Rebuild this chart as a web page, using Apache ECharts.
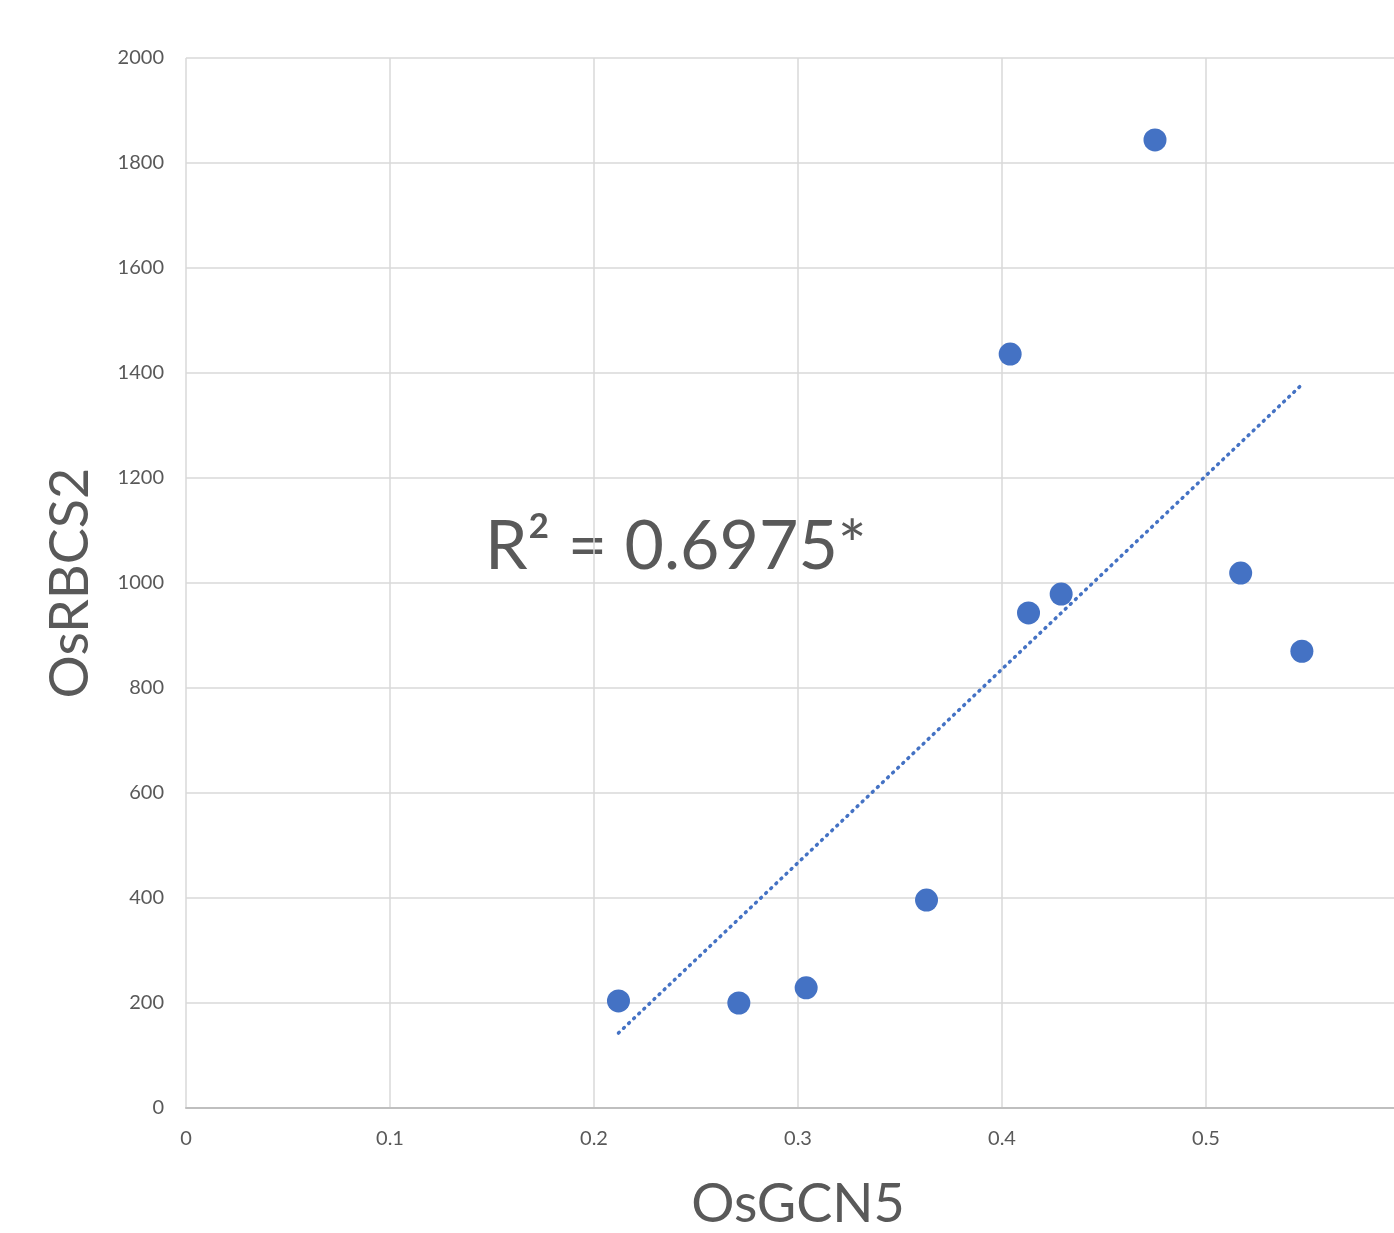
<!DOCTYPE html>
<html>
<head>
<meta charset="utf-8">
<script src="https://cdn.jsdelivr.net/npm/echarts@6/dist/echarts.min.js"></script>
<style>
  html, body { margin: 0; padding: 0; background: #fff; }
  #chart { width: 1394px; height: 1233px; }
</style>
</head>
<body>
<div id="chart"></div>
<script>
// values
const gcn5 = [0.212, 0.271, 0.304, 0.363, 0.404, 0.413, 0.429, 0.475, 0.517, 0.547];
const rbcs2 = [204, 200, 229, 396, 1436, 943, 979, 1844, 1019, 870];
const rSquaredText = 'R² = 0.6975*';

// least squares trendline from the points
function fitLine(xs, ys) {
  let n = xs.length, mx = 0, my = 0;
  for (let i = 0; i < n; i++) { mx += xs[i]; my += ys[i]; }
  mx /= n; my /= n;
  let sxy = 0, sxx = 0;
  for (let i = 0; i < n; i++) {
    sxy += (xs[i] - mx) * (ys[i] - my);
    sxx += (xs[i] - mx) * (xs[i] - mx);
  }
  let k = sxy / sxx, b = my - k * mx;
  let x0 = Math.min(...xs), x1 = Math.max(...xs);
  return [[x0, k * x0 + b], [x1, k * x1 + b]];
}

const font = 'Lato, "Open Sans", sans-serif';
const gray = '#595959';

let option = {
  animation: false,
  textStyle: { fontFamily: font },
  grid: { left: 186, right: -16, top: 58, bottom: 125, outerBoundsMode: 'none', containLabel: false },
  xAxis: {
    type: 'value',
    min: 0, max: 0.6, interval: 0.1,
    name: 'OsGCN5',
    nameLocation: 'middle',
    nameGap: 70,
    nameTextStyle: { fontSize: 54, color: gray, fontFamily: font },
    axisLine: { show: true, lineStyle: { color: '#bfbfbf', width: 2 } },
    axisTick: { show: false },
    axisLabel: { fontSize: 20, color: gray, margin: 21, fontFamily: font, showMaxLabel: true },
    splitLine: { show: true, lineStyle: { color: '#d9d9d9', width: 1.5 } }
  },
  yAxis: {
    type: 'value',
    min: 0, max: 2000, interval: 200,
    name: 'OsRBCS2',
    nameLocation: 'middle',
    nameGap: 88,
    nameRotate: 90,
    nameTextStyle: { fontSize: 54, color: gray, fontFamily: font },
    axisLine: { show: false },
    axisTick: { show: false },
    axisLabel: { fontSize: 20, color: gray, margin: 22, fontFamily: font, formatter: v => String(v) },
    splitLine: { show: true, lineStyle: { color: '#d9d9d9', width: 1.5 } }
  },
  graphic: [{
    type: 'text',
    left: 485,
    top: 513,
    style: { text: rSquaredText, fontSize: 68, fill: gray, fontFamily: font }
  }],
  series: [
    {
      type: 'line',
      data: fitLine(gcn5, rbcs2),
      symbol: 'none',
      lineStyle: { color: '#4472c4', width: 3.5, type: [1, 6], cap: 'round' },
      z: 1
    },
    {
      type: 'scatter',
      data: gcn5.map((x, i) => [x, rbcs2[i]]),
      symbolSize: 23,
      itemStyle: { color: '#4472c4', opacity: 1 },
      z: 2
    }
  ]
};

let myChart = echarts.init(document.getElementById('chart'));
myChart.setOption(option);
</script>
</body>
</html>
